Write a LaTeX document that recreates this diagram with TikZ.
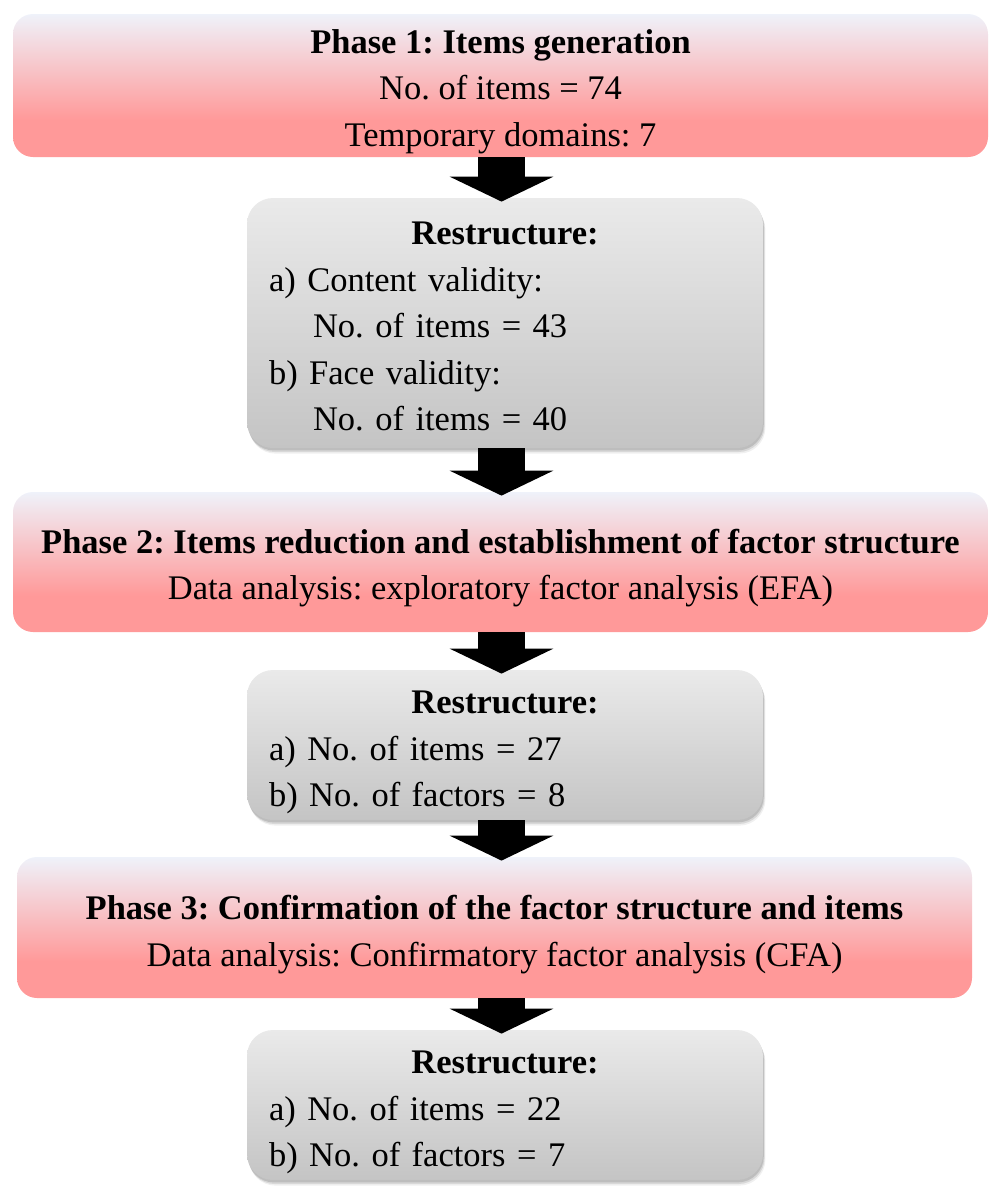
\documentclass[tikz,border=0pt]{standalone}
\usepackage{fontspec}
\setmainfont{Liberation Serif}
\usetikzlibrary{arrows.meta,shadows,calc}
\frenchspacing
\definecolor{pkb}{RGB}{255,153,153}
\definecolor{pkt}{RGB}{239,242,250}
\definecolor{gyb}{RGB}{196,196,196}
\definecolor{gyt}{RGB}{234,234,234}
\pgfdeclareverticalshading{redshade}{100bp}{color(0bp)=(pkb); color(25bp)=(pkb); color(38bp)=(pkb); color(75bp)=(pkt); color(100bp)=(pkt)}
\pgfdeclareverticalshading{grayshade}{100bp}{color(0bp)=(gyb); color(25bp)=(gyb); color(75bp)=(gyt); color(100bp)=(gyt)}
\tikzset{
  txt/.style={font=\fontsize{17.25pt}{23.25pt}\selectfont\frenchspacing, text=black},
  redbox/.style={txt, shade, shading=redshade, rounded corners=10pt, inner sep=0pt, align=center},
  graybox/.style={txt, shade, shading=grayshade, rounded corners=13pt, inner sep=0pt,
    minimum width=258pt, text width=236pt, align=left,
    drop shadow={shadow xshift=0.4pt, shadow yshift=-1.2pt, opacity=0.12, fill=black},
    drop shadow={shadow xshift=0.8pt, shadow yshift=-2pt, opacity=0.10, fill=black},
    drop shadow={shadow xshift=1.2pt, shadow yshift=-2.8pt, opacity=0.06, fill=black}},
  flowarrow/.style={black, line width=23.5pt, shorten >=-2pt,
    -{Triangle[width=51.5pt, length=12.5pt]}}
}
\newcommand{\rst}[1]{\makebox[\linewidth][c]{\rule{0pt}{#1}\bfseries Restructure:}}
\newcommand{\up}{\rule{0pt}{18pt}}
\begin{document}
\begin{tikzpicture}[x=0.5pt, y=-0.5pt]
\useasboundingbox (0,0) rectangle (1002,1200);
\coordinate (ax) at (501.5,0);
\node[redbox, minimum width=487.5pt, minimum height=71.5pt] (b1) at (500.5,85.5)
  {\up\textbf{Phase 1: Items generation}\\No. of items = 74\\Temporary domains: 7};
\node[graybox, minimum height=125pt] (b2) at (505,323)
  {\rst{15pt}\\a) Content validity:\\\hspace*{22pt}No. of items = 43\\b) Face validity:\\\hspace*{22pt}No. of items = 40};
\node[redbox, minimum width=487.5pt, minimum height=70pt] (b3) at (500.5,562)
  {\up\textbf{Phase 2: Items reduction and establishment of factor structure}\\Data analysis: exploratory factor analysis (EFA)};
\node[graybox, minimum height=75pt] (b4) at (505,745)
  {\rst{19pt}\\a) No. of items = 27\\b) No. of factors = 8};
\node[redbox, minimum width=477.5pt, minimum height=70.5pt] (b5) at (494.5,927.5)
  {\rule{0pt}{19pt}\textbf{Phase 3: Confirmation of the factor structure and items}\\Data analysis: Confirmatory factor analysis (CFA)};
\node[graybox, minimum height=75pt] (b6) at (505,1105)
  {\rst{19pt}\\a) No. of items = 22\\b) No. of factors = 7};
\draw[flowarrow] (b1.south -| ax) -- (b2.north -| ax);
\draw[flowarrow] (b2.south -| ax) -- (b3.north -| ax);
\draw[flowarrow] (b3.south -| ax) -- (b4.north -| ax);
\draw[flowarrow] (b4.south -| ax) -- (b5.north -| ax);
\draw[flowarrow] (b5.south -| ax) -- (b6.north -| ax);
\end{tikzpicture}
\end{document}
